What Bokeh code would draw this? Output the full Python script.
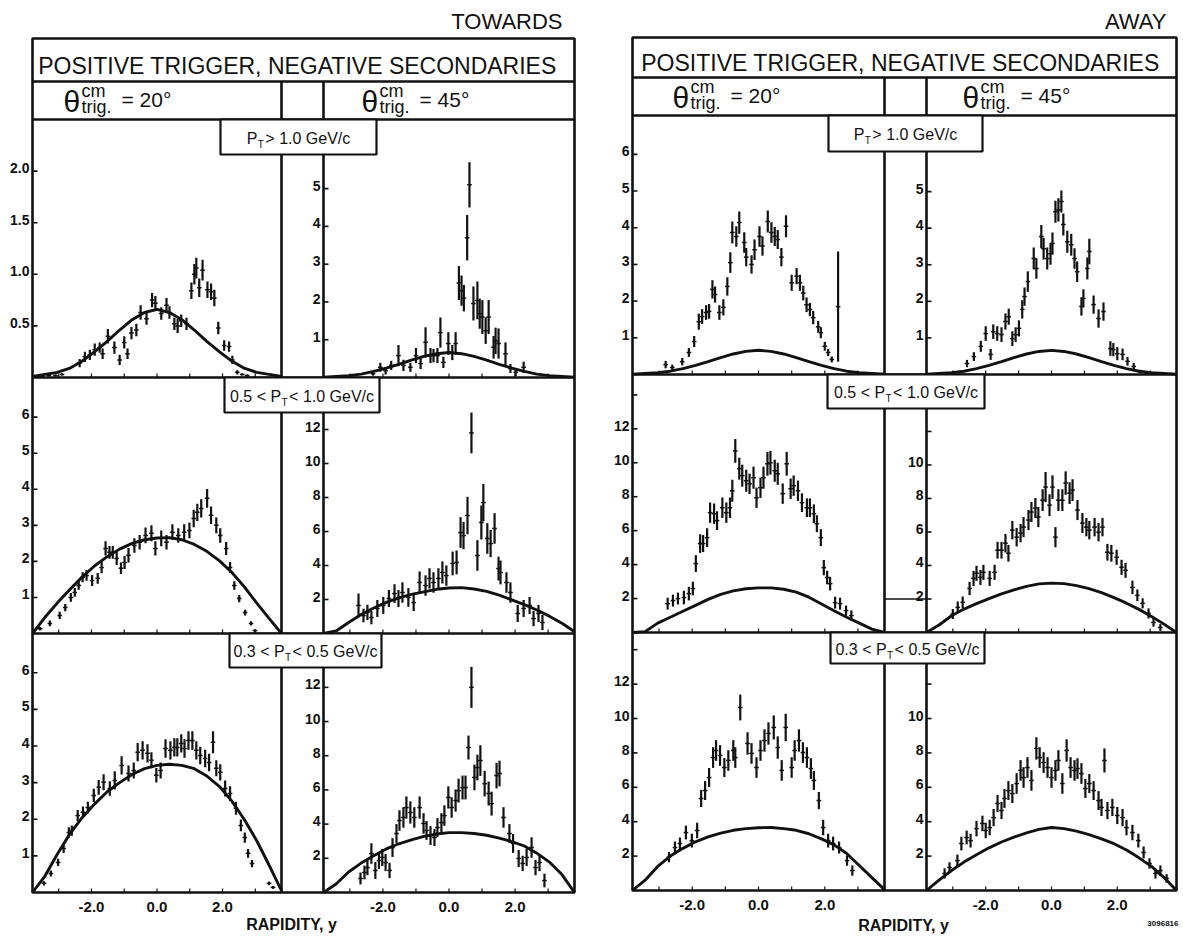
from bokeh.plotting import figure
from bokeh.models import Range1d
from bokeh.core.properties import value
from bokeh.embed import file_html
from bokeh.resources import INLINE

W, H = 1183, 944
FONT = "Liberation Sans"
INK = "#111111"

# ---------------------------------------------------------------- data
XMIN, XMAX = -3.8, 3.8

# rapidity points of the model curves
curve_rap = [-3.8, -3.42, -3.04, -2.66, -2.28, -1.9, -1.52, -1.14, -0.76, -0.38, 0.0,
             0.38, 0.76, 1.14, 1.52, 1.9, 2.28, 2.66, 3.04, 3.42, 3.8]

# model curves
model_pt1 = [0.01, 0.03, 0.05, 0.09, 0.16, 0.25, 0.35, 0.46, 0.56, 0.63, 0.66,
             0.63, 0.56, 0.46, 0.35, 0.25, 0.16, 0.09, 0.05, 0.03, 0.01]
model_t2a = [0.0, 0.45, 0.85, 1.22, 1.57, 1.88, 2.13, 2.34, 2.5, 2.6, 2.65,
             2.66, 2.6, 2.47, 2.28, 2.02, 1.7, 1.3, 0.85, 0.42, 0.0]
model_t2b = [0.0, 0.15, 0.65, 1.12, 1.5, 1.83, 2.1, 2.3, 2.45, 2.6, 2.68,
             2.7, 2.62, 2.48, 2.26, 1.98, 1.7, 1.38, 1.02, 0.6, 0.1]
model_a2c = [0.0, 0.05, 0.55, 0.9, 1.25, 1.6, 1.95, 2.25, 2.45, 2.58, 2.63,
             2.63, 2.55, 2.38, 2.08, 1.68, 1.28, 0.9, 0.55, 0.2, 0.0]
model_a2d = [0.0, 0.45, 1.0, 1.4, 1.72, 2.02, 2.3, 2.55, 2.75, 2.9, 2.95,
             2.92, 2.8, 2.62, 2.38, 2.08, 1.75, 1.38, 0.95, 0.5, 0.0]
model_t3a = [0.0, 0.45, 1.05, 1.6, 2.05, 2.42, 2.75, 3.0, 3.22, 3.38, 3.47,
             3.5, 3.47, 3.38, 3.18, 2.9, 2.5, 2.0, 1.42, 0.75, 0.05]
model_t3b = [0.0, 0.5, 1.2, 1.72, 2.15, 2.55, 2.85, 3.08, 3.28, 3.42, 3.5,
             3.5, 3.45, 3.35, 3.18, 2.98, 2.72, 2.3, 1.78, 1.05, 0.0]
model_a3c = [0.0, 0.6, 1.4, 2.0, 2.45, 2.83, 3.12, 3.34, 3.5, 3.6, 3.65,
             3.66, 3.6, 3.5, 3.3, 3.0, 2.65, 2.15, 1.45, 0.75, 0.05]
model_a3d = [0.0, 0.6, 1.16, 1.65, 2.08, 2.48, 2.82, 3.1, 3.35, 3.55, 3.66,
             3.6, 3.45, 3.25, 3.0, 2.72, 2.35, 1.9, 1.4, 0.75, 0.0]

# TOWARDS, theta = 20 deg, pT > 1.0
t1a_rap = [-3.5, -3.3, -3.1, -2.9, -2.36, -2.2, -2.05, -1.9, -1.75, -1.66, -1.5, -1.3, -1.14, -1.0, -0.9,
           -0.78, -0.63, -0.5, -0.32, -0.15, -0.05, 0.13, 0.29, 0.38, 0.53, 0.63, 0.74, 0.9, 1.05, 1.14,
           1.2, 1.29, 1.39, 1.54, 1.65, 1.75, 1.87, 2.05, 2.2, 2.3, 2.45, 2.6, 2.75]
t1a_val = [0.01, 0.02, 0.02, 0.03, 0.14, 0.2, 0.22, 0.27, 0.29, 0.23, 0.4, 0.29, 0.17, 0.34, 0.23,
           0.43, 0.46, 0.63, 0.57, 0.75, 0.72, 0.62, 0.7, 0.63, 0.52, 0.5, 0.55, 0.52, 0.84, 1.0,
           1.06, 0.87, 1.04, 0.85, 0.83, 0.77, 0.48, 0.31, 0.3, 0.17, 0.05, 0.03, 0.02]
t1a_err = [0.01, 0.01, 0.01, 0.01, 0.04, 0.05, 0.05, 0.06, 0.05, 0.05, 0.07, 0.06, 0.05, 0.06, 0.05,
           0.06, 0.06, 0.07, 0.06, 0.07, 0.07, 0.06, 0.07, 0.06, 0.06, 0.07, 0.06, 0.06, 0.08, 0.1,
           0.1, 0.09, 0.1, 0.08, 0.08, 0.08, 0.06, 0.05, 0.05, 0.04, 0.02, 0.01, 0.01]

# TOWARDS, theta = 45 deg, pT > 1.0
t1b_rap = [-2.3, -2.08, -1.92, -1.75, -1.53, -1.38, -1.17, -1.0, -0.86, -0.71, -0.56, -0.47, -0.35, -0.26,
           -0.17, -0.02, 0.1, 0.2, 0.3, 0.38, 0.45, 0.55, 0.62, 0.74, 0.86, 0.93, 1.01, 1.11, 1.2, 1.35,
           1.41, 1.5, 1.71, 1.86, 2.02, 2.26]
t1b_val = [0.1, 0.27, 0.18, 0.32, 0.58, 0.32, 0.27, 0.58, 0.37, 0.93, 0.58, 0.58, 0.58, 1.19,
           0.4, 0.9, 0.66, 0.9, 2.5, 2.3, 2.1, 3.7, 5.1, 1.96, 2.04, 1.69, 1.6, 1.24, 1.6, 0.8,
           0.97, 0.9, 0.63, 0.24, 0.14, 0.27]
t1b_err = [0.05, 0.12, 0.1, 0.12, 0.28, 0.15, 0.12, 0.2, 0.15, 0.4, 0.2, 0.18, 0.2, 0.4,
           0.15, 0.3, 0.2, 0.3, 0.45, 0.4, 0.35, 0.6, 0.6, 0.45, 0.5, 0.4, 0.45, 0.35, 0.45, 0.3,
           0.35, 0.4, 0.3, 0.12, 0.1, 0.15]

# AWAY, theta = 20 deg, pT > 1.0
a1c_rap = [-2.8, -2.6, -2.3, -2.1, -1.94, -1.8, -1.7, -1.58, -1.49, -1.39, -1.31, -1.18, -1.06, -0.94,
           -0.85, -0.79, -0.67, -0.58, -0.43, -0.37, -0.21, -0.12, 0.03, 0.12, 0.28, 0.39, 0.49, 0.58,
           0.69, 0.83, 1.0, 1.15, 1.25, 1.35, 1.45, 1.55, 1.65, 1.8, 1.88, 2.0, 2.1, 2.21, 2.4]
a1c_val = [0.27, 0.19, 0.35, 0.6, 0.9, 1.44, 1.58, 1.69, 1.72, 2.32, 2.18, 1.69, 1.83, 2.4,
           3.05, 3.87, 3.76, 4.14, 3.6, 3.2, 3.0, 3.4, 3.76, 3.5, 4.17, 3.87, 3.76, 3.68,
           3.2, 4.04, 2.5, 2.68, 2.5, 2.22, 1.9, 1.77, 1.55, 1.3, 1.14, 0.77, 0.6, 0.41, 1.85]
a1c_err = [0.1, 0.08, 0.1, 0.12, 0.15, 0.22, 0.2, 0.2, 0.2, 0.25, 0.22, 0.2, 0.22, 0.25,
           0.28, 0.3, 0.28, 0.3, 0.28, 0.25, 0.25, 0.28, 0.28, 0.26, 0.3, 0.28, 0.26, 0.26,
           0.25, 0.3, 0.22, 0.22, 0.22, 0.2, 0.2, 0.18, 0.18, 0.16, 0.15, 0.12, 0.1, 0.08, 1.5]

# AWAY, theta = 45 deg, pT > 1.0
a1d_rap = [-2.57, -2.36, -2.15, -2.0, -1.85, -1.77, -1.65, -1.52, -1.4, -1.3, -1.19, -1.09, -0.99, -0.89,
           -0.82, -0.72, -0.54, -0.46, -0.31, -0.24, -0.13, -0.03, 0.03, 0.12, 0.21, 0.3, 0.36, 0.48,
           0.6, 0.7, 0.78, 0.91, 0.97, 1.09, 1.15, 1.28, 1.43, 1.58, 1.79, 1.88, 2.0, 2.16, 2.31,
           2.5, 2.7, 2.9]
a1d_val = [0.3, 0.49, 0.77, 1.12, 0.55, 1.17, 1.12, 1.09, 1.45, 1.58, 0.98, 1.09, 1.26, 1.78,
           2.13, 2.54, 3.17, 2.9, 3.77, 3.44, 3.17, 3.3, 3.58, 4.45, 4.5, 4.73, 4.1, 3.63,
           3.55, 3.17, 2.81, 1.86, 2.08, 2.9, 3.36, 1.91, 1.53, 1.72, 0.71, 0.68, 0.57, 0.55, 0.36,
           0.22, 0.08, 0.03]
a1d_err = [0.1, 0.12, 0.15, 0.2, 0.15, 0.2, 0.2, 0.2, 0.22, 0.22, 0.2, 0.2, 0.22, 0.25,
           0.25, 0.28, 0.3, 0.28, 0.32, 0.3, 0.3, 0.3, 0.3, 0.3, 0.32, 0.3, 0.3, 0.3,
           0.3, 0.28, 0.28, 0.25, 0.25, 0.3, 0.35, 0.25, 0.25, 0.25, 0.2, 0.18, 0.18, 0.16, 0.12,
           0.1, 0.05, 0.03]

# TOWARDS, theta = 20 deg, 0.5 < pT < 1.0
t2a_rap = [-3.57, -3.27, -2.97, -2.8, -2.63, -2.51, -2.39, -2.27, -2.15, -1.98, -1.81, -1.69, -1.57, -1.45,
           -1.35, -1.23, -1.1, -0.99, -0.87, -0.69, -0.53, -0.35, -0.17, -0.05, 0.13, 0.29, 0.47, 0.65,
           0.83, 0.99, 1.12, 1.23, 1.35, 1.53, 1.65, 1.81, 1.93, 2.11, 2.23, 2.36, 2.51, 2.69, 2.87, 2.99]
t2a_val = [0.13, 0.28, 0.5, 0.72, 1.0, 1.14, 1.33, 1.56, 1.61, 1.47, 1.53, 1.83, 2.36, 2.25,
           2.25, 2.08, 1.81, 1.97, 2.17, 2.44, 2.53, 2.72, 2.78, 2.36, 2.64, 2.53, 2.81, 2.72,
           2.81, 2.86, 3.19, 3.36, 3.47, 3.75, 3.28, 3.0, 2.72, 2.36, 1.83, 1.33, 0.97, 0.58, 0.28, 0.08]
t2a_err = [0.05, 0.08, 0.1, 0.1, 0.12, 0.12, 0.12, 0.14, 0.15, 0.15, 0.15, 0.16, 0.2, 0.18,
           0.18, 0.18, 0.16, 0.18, 0.2, 0.2, 0.2, 0.22, 0.22, 0.2, 0.22, 0.2, 0.22, 0.2,
           0.22, 0.22, 0.24, 0.24, 0.25, 0.26, 0.24, 0.22, 0.2, 0.18, 0.15, 0.12, 0.1, 0.08, 0.06, 0.04]

# TOWARDS, theta = 45 deg, 0.5 < pT < 1.0
t2b_rap = [-2.74, -2.59, -2.47, -2.35, -2.17, -1.99, -1.82, -1.65, -1.53, -1.41, -1.23, -1.07, -0.89, -0.71,
           -0.59, -0.47, -0.32, -0.2, -0.08, 0.11, 0.23, 0.35, 0.44, 0.56, 0.68, 0.86, 0.98, 1.04,
           1.16, 1.26, 1.38, 1.5, 1.56, 1.74, 1.86, 2.08, 2.26, 2.44, 2.56, 2.71, 2.83]
t2b_val = [1.65, 1.06, 1.24, 0.94, 1.47, 1.65, 2.06, 2.35, 2.06, 2.41, 2.12, 1.82, 3.0, 2.82,
           3.24, 3.0, 3.24, 3.59, 3.41, 4.12, 4.18, 5.94, 5.76, 6.94, 11.8, 4.59, 6.53, 7.7,
           5.59, 5.29, 6.18, 3.82, 3.59, 3.0, 2.41, 1.18, 1.47, 1.65, 0.88, 1.18, 0.65]
t2b_err = [0.7, 0.4, 0.45, 0.4, 0.5, 0.5, 0.5, 0.55, 0.5, 0.6, 0.55, 0.5, 0.65, 0.6,
           0.6, 0.6, 0.6, 0.65, 0.6, 0.7, 0.7, 0.9, 0.8, 1.1, 1.2, 0.9, 1.0, 1.1,
           0.9, 0.8, 0.9, 0.7, 0.7, 0.6, 0.6, 0.5, 0.5, 0.5, 0.45, 0.5, 0.45]

# AWAY, theta = 20 deg, 0.5 < pT < 1.0
a2c_rap = [-2.74, -2.58, -2.43, -2.25, -2.1, -1.98, -1.89, -1.76, -1.67, -1.55, -1.46, -1.34, -1.25, -1.09,
           -0.97, -0.86, -0.79, -0.7, -0.58, -0.49, -0.37, -0.27, -0.15, -0.06, 0.06, 0.15, 0.27, 0.36,
           0.49, 0.58, 0.73, 0.85, 0.97, 1.06, 1.19, 1.31, 1.46, 1.55, 1.67, 1.76, 1.88, 1.97, 2.07,
           2.16, 2.31, 2.46, 2.64, 2.8]
a2c_val = [1.7, 1.88, 2.0, 2.06, 2.29, 2.59, 4.06, 5.24, 5.24, 5.59, 7.06, 7.0, 6.59, 7.35,
           7.06, 7.35, 8.35, 10.7, 9.65, 9.24, 8.94, 8.76, 9.12, 7.94, 8.53, 9.12, 9.94, 10.0,
           9.53, 9.35, 8.18, 9.94, 8.47, 8.65, 8.35, 7.65, 7.35, 7.35, 7.0, 6.41, 5.59, 3.82, 3.24,
           2.88, 1.76, 1.7, 1.29, 1.0]
a2c_err = [0.35, 0.35, 0.35, 0.4, 0.4, 0.4, 0.5, 0.55, 0.5, 0.55, 0.6, 0.6, 0.55, 0.6,
           0.6, 0.6, 0.65, 0.7, 0.65, 0.65, 0.65, 0.6, 0.65, 0.6, 0.6, 0.65, 0.7, 0.7,
           0.65, 0.65, 0.6, 0.7, 0.6, 0.6, 0.6, 0.55, 0.55, 0.55, 0.55, 0.5, 0.5, 0.45, 0.4,
           0.4, 0.35, 0.35, 0.3, 0.3]

# AWAY, theta = 45 deg, 0.5 < pT < 1.0
a2d_rap = [-3.0, -2.85, -2.7, -2.49, -2.37, -2.28, -2.16, -2.07, -1.88, -1.73, -1.64, -1.52, -1.4, -1.31,
           -1.19, -1.06, -0.94, -0.85, -0.7, -0.61, -0.49, -0.4, -0.27, -0.18, -0.06, 0.03, 0.12, 0.21,
           0.33, 0.43, 0.55, 0.64, 0.79, 0.94, 1.06, 1.15, 1.31, 1.43, 1.55, 1.7, 1.82, 1.98, 2.13,
           2.25, 2.46, 2.61, 2.77, 2.95, 3.1, 3.31]
a2d_val = [1.1, 1.5, 1.8, 2.63, 3.23, 3.53, 3.29, 3.59, 3.23, 3.59, 4.91, 4.91, 5.33, 4.73,
           6.11, 5.69, 5.93, 6.29, 6.71, 7.19, 7.43, 6.89, 7.9, 8.68, 7.6, 8.68, 5.69, 7.9,
           7.9, 8.92, 8.32, 8.5, 7.31, 6.53, 6.29, 6.11, 6.29, 5.99, 6.29, 4.79, 4.73, 4.49, 3.89,
           3.71, 2.69, 2.22, 1.74, 1.14, 0.6, 0.3]
a2d_err = [0.3, 0.35, 0.35, 0.4, 0.45, 0.45, 0.45, 0.45, 0.45, 0.45, 0.5, 0.5, 0.55, 0.5,
           0.55, 0.55, 0.55, 0.6, 0.6, 0.6, 0.6, 0.6, 0.65, 0.9, 0.65, 0.7, 0.6, 0.65,
           0.65, 0.7, 0.65, 0.65, 0.6, 0.6, 0.55, 0.55, 0.55, 0.55, 0.55, 0.5, 0.5, 0.45, 0.45,
           0.45, 0.4, 0.35, 0.3, 0.3, 0.25, 0.2]

# TOWARDS, theta = 20 deg, 0.3 < pT < 0.5
t3a_rap = [-3.45, -3.24, -3.02, -2.85, -2.69, -2.6, -2.42, -2.26, -2.11, -1.93, -1.78, -1.63, -1.44, -1.29,
           -1.08, -0.87, -0.71, -0.59, -0.44, -0.29, -0.17, -0.02, 0.11, 0.26, 0.41, 0.53, 0.62, 0.74,
           0.84, 0.96, 1.08, 1.2, 1.32, 1.47, 1.59, 1.71, 1.81, 1.93, 2.08, 2.23, 2.41, 2.56, 2.68,
           2.78, 2.9, 3.42, 3.54]
t3a_val = [0.25, 0.52, 0.82, 1.2, 1.64, 1.69, 2.1, 2.19, 2.32, 2.65, 2.87, 3.01, 2.84, 3.06,
           3.47, 3.25, 3.33, 3.83, 3.88, 3.8, 3.61, 3.2, 3.33, 3.93, 3.88, 3.96, 3.96, 4.07,
           3.93, 4.15, 4.15, 3.88, 3.74, 3.66, 3.55, 4.1, 3.39, 3.28, 2.84, 2.7, 2.3, 1.83, 1.5,
           1.07, 0.79, 0.25, 0.14]
t3a_err = [0.06, 0.08, 0.1, 0.12, 0.14, 0.14, 0.15, 0.16, 0.16, 0.18, 0.2, 0.22, 0.2, 0.25,
           0.25, 0.22, 0.22, 0.25, 0.25, 0.25, 0.22, 0.2, 0.22, 0.25, 0.25, 0.25, 0.25, 0.25,
           0.25, 0.25, 0.25, 0.25, 0.24, 0.24, 0.24, 0.3, 0.22, 0.22, 0.22, 0.2, 0.18, 0.16, 0.14,
           0.12, 0.1, 0.05, 0.04]

# TOWARDS, theta = 45 deg, 0.3 < pT < 0.5
t3b_rap = [-2.68, -2.56, -2.47, -2.35, -2.23, -2.12, -2.02, -1.92, -1.8, -1.71, -1.59, -1.5, -1.38, -1.29,
           -1.17, -1.05, -0.89, -0.77, -0.68, -0.56, -0.44, -0.35, -0.23, -0.14, -0.02, 0.08, 0.2, 0.29,
           0.41, 0.5, 0.59, 0.68, 0.77, 0.86, 0.95, 1.08, 1.2, 1.29, 1.44, 1.53, 1.65, 1.83, 1.94,
           2.11, 2.23, 2.35, 2.5, 2.62, 2.74, 2.89]
t3b_val = [0.82, 1.17, 1.46, 2.28, 1.29, 1.87, 2.05, 1.75, 1.29, 2.63, 3.45, 4.21, 4.39, 4.97,
           4.68, 4.39, 4.97, 4.04, 3.63, 3.33, 3.22, 3.8, 4.09, 4.5, 5.56, 4.97, 5.38, 5.96,
           6.14, 6.14, 8.48, 12.0, 6.73, 7.31, 7.72, 6.37, 5.79, 5.2, 6.84, 6.96, 4.39, 3.45, 2.87,
           1.99, 1.7, 2.05, 2.63, 1.46, 1.75, 0.7]
t3b_err = [0.35, 0.4, 0.45, 0.6, 0.5, 0.5, 0.5, 0.5, 0.45, 0.55, 0.55, 0.6, 0.6, 0.65,
           0.65, 0.6, 0.65, 0.6, 0.55, 0.55, 0.5, 0.55, 0.55, 0.6, 0.65, 0.6, 0.65, 0.7,
           0.7, 0.7, 0.7, 1.2, 0.75, 0.75, 0.9, 0.75, 0.7, 0.7, 0.75, 0.75, 0.6, 0.55, 0.55,
           0.5, 0.45, 0.5, 0.6, 0.45, 0.5, 0.4]

# AWAY, theta = 20 deg, 0.3 < pT < 0.5
a3c_rap = [-2.7, -2.52, -2.37, -2.19, -2.01, -1.85, -1.73, -1.61, -1.49, -1.37, -1.28, -1.16, -1.03, -0.91,
           -0.76, -0.7, -0.55, -0.33, -0.21, -0.06, 0.06, 0.18, 0.3, 0.46, 0.58, 0.7, 0.82, 1.0,
           1.09, 1.22, 1.34, 1.46, 1.58, 1.67, 1.82, 1.95, 2.1, 2.25, 2.43, 2.67, 2.83]
a3c_val = [1.94, 2.5, 2.73, 3.37, 2.9, 3.49, 5.35, 5.81, 6.57, 7.73, 8.14, 7.85, 7.15, 7.56,
           8.14, 7.73, 10.64, 8.55, 7.97, 7.15, 8.14, 8.72, 9.13, 9.48, 8.31, 6.98, 9.48, 7.15,
           8.14, 8.72, 8.02, 7.73, 7.09, 6.4, 5.23, 3.66, 2.9, 2.73, 2.5, 1.74, 1.16]
a3c_err = [0.3, 0.35, 0.35, 0.4, 0.4, 0.45, 0.5, 0.55, 0.55, 0.6, 0.6, 0.6, 0.55, 0.6,
           0.6, 0.6, 0.75, 0.65, 0.6, 0.6, 0.6, 0.65, 0.65, 0.7, 0.65, 0.6, 0.8, 0.6,
           0.6, 0.65, 0.6, 0.6, 0.6, 0.55, 0.5, 0.45, 0.4, 0.4, 0.35, 0.3, 0.3]

# AWAY, theta = 45 deg, 0.3 < pT < 0.5
a3d_rap = [-3.25, -3.1, -2.86, -2.74, -2.58, -2.46, -2.28, -2.1, -2.0, -1.88, -1.76, -1.64, -1.52, -1.43,
           -1.31, -1.19, -1.06, -0.94, -0.85, -0.73, -0.61, -0.46, -0.36, -0.24, -0.12, 0.0, 0.12, 0.21,
           0.33, 0.46, 0.58, 0.7, 0.79, 0.91, 1.03, 1.15, 1.28, 1.43, 1.52, 1.61, 1.7, 1.85, 2.0,
           2.16, 2.28, 2.46, 2.64, 2.8, 2.98, 3.16, 3.31, 3.5]
a3d_val = [0.99, 1.34, 1.74, 2.73, 3.08, 2.9, 3.6, 3.9, 3.49, 3.66, 4.24, 5.06, 4.65, 5.35,
           5.81, 5.64, 6.22, 6.98, 6.57, 7.15, 6.4, 8.26, 7.73, 7.44, 7.15, 6.57, 6.98, 7.56,
           6.22, 8.14, 7.15, 6.98, 7.09, 6.8, 5.93, 6.22, 5.81, 5.23, 4.83, 7.56, 4.65, 4.83, 4.36,
           4.24, 3.66, 3.37, 2.9, 2.21, 1.57, 0.99, 1.16, 0.7]
a3d_err = [0.3, 0.3, 0.35, 0.4, 0.4, 0.4, 0.45, 0.45, 0.45, 0.45, 0.5, 0.5, 0.5, 0.55,
           0.55, 0.55, 0.6, 0.6, 0.6, 0.6, 0.6, 0.65, 0.6, 0.6, 0.6, 0.6, 0.6, 0.6,
           0.6, 0.65, 0.6, 0.6, 0.6, 0.6, 0.55, 0.55, 0.55, 0.55, 0.5, 0.7, 0.5, 0.5, 0.5,
           0.5, 0.45, 0.45, 0.4, 0.35, 0.3, 0.3, 0.3, 0.25]

# tick values / labels
ticks_half = [0.5, 1.0, 1.5, 2.0]
labels_half = ["0.5", "1.0", "1.5", "2.0"]
ticks_unit5 = [1, 2, 3, 4, 5]
ticks_unit6 = [1, 2, 3, 4, 5, 6]
ticks_even12 = [2, 4, 6, 8, 10, 12]
ticks_even10 = [2, 4, 6, 8, 10]
x_ticks = [-2.0, 0.0, 2.0]
x_labels = ["-2.0", "0.0", "2.0"]
x_minor = [-3, -2, -1, 0, 1, 2, 3]

pt_bins = [("P", "> 1.0 GeV/c"), ("0.5 < P", "< 1.0 GeV/c"), ("0.3 < P", "< 0.5 GeV/c")]

# ---------------------------------------------------------------- page layout
# each half: frame box, header dividers, strip between the two angle columns
halves = [
    dict(name="TOWARDS", left=32, right=574, top=38, title_y=81, theta_y=119,
         rows=[119, 377, 633, 892], strip=(281, 323), side_x=562, side_y=21,
         title_x=297, title_mid=65,
         theta=[(63, "= 20°"), (361, "= 45°")], theta_dy=0,
         pt_boxes=[(220, 376, 119, 154), (224, 379, 377, 412), (229, 381, 633, 667)],
         rap_x=291, rap_y=924),
    dict(name="AWAY", left=632, right=1176, top=37, title_y=77, theta_y=115,
         rows=[115, 374, 632, 890], strip=(884, 926), side_x=1166, side_y=21,
         title_x=900, title_mid=62,
         theta=[(672, "= 20°"), (962, "= 45°")], theta_dy=-4,
         pt_boxes=[(828, 982, 115, 151), (827, 984, 374, 408), (830, 984, 632, 663)],
         rap_x=903, rap_y=925),
]

# panel: key, data arrays, model curve, half, row, column, y top value, ticks, labels, unlabeled ticks
panels = [
    ("t1a", t1a_rap, t1a_val, t1a_err, model_pt1, 0, 0, "a", 2.5, ticks_half, labels_half, []),
    ("t1b", t1b_rap, t1b_val, t1b_err, model_pt1, 0, 0, "b", 6.83, ticks_unit5, None, []),
    ("t2a", t2a_rap, t2a_val, t2a_err, model_t2a, 0, 1, "a", 7.1, ticks_unit6, None, []),
    ("t2b", t2b_rap, t2b_val, t2b_err, model_t2b, 0, 1, "b", 15.06, ticks_even12, None, []),
    ("t3a", t3a_rap, t3a_val, t3a_err, model_t3a, 0, 2, "a", 7.07, ticks_unit6, None, []),
    ("t3b", t3b_rap, t3b_val, t3b_err, model_t3b, 0, 2, "b", 15.15, ticks_even12, None, []),
    ("a1c", a1c_rap, a1c_val, a1c_err, model_pt1, 1, 0, "a", 7.06, ticks_unit6, None, []),
    ("a1d", a1d_rap, a1d_val, a1d_err, model_pt1, 1, 0, "b", 7.08, ticks_unit5, None, []),
    ("a2c", a2c_rap, a2c_val, a2c_err, model_a2c, 1, 1, "a", 15.2, ticks_even12, None, [14]),
    ("a2d", a2d_rap, a2d_val, a2d_err, model_a2d, 1, 1, "b", 15.4, ticks_even10, None, [12]),
    ("a3c", a3c_rap, a3c_val, a3c_err, model_a3c, 1, 2, "a", 15.0, ticks_even12, None, [14]),
    ("a3d", a3d_rap, a3d_val, a3d_err, model_a3d, 1, 2, "b", 15.0, ticks_even10, None, [12]),
]

p = figure(width=W, height=H, x_range=Range1d(0, W), y_range=Range1d(H, 0),
           x_axis_type=None, y_axis_type=None, toolbar_location=None,
           min_border=0, output_backend="svg")
p.outline_line_color = None
p.background_fill_color = "white"
p.border_fill_color = "white"


def txt(x, y, s, size, align="left", style="normal", font=FONT, **kw):
    # y is the vertical middle of the text
    p.text(x=[x], y=[y], text=[s], text_font=value(font), text_font_size=f"{size}px",
           text_font_style=style, text_align=align, text_baseline="middle",
           text_color=INK, **kw)


# per-panel ranges mapping rapidity / yield onto the panel's pixel box
extra_x, extra_y, geo = {}, {}, {}
for key, rap, val, err, curve, hi, row, col, ytop, ticks, labels, bare in panels:
    h = halves[hi]
    if col == "a":
        x0, x1 = h["left"], h["strip"][0]
    else:
        x0, x1 = h["strip"][1], h["right"]
    top_px, base_px = h["rows"][row], h["rows"][row + 1]
    sx = (XMAX - XMIN) / (x1 - x0)
    xs = XMIN - x0 * sx
    sy = ytop / (base_px - top_px)
    extra_x[key + "_x"] = Range1d(xs, xs + W * sx)
    extra_y[key + "_y"] = Range1d(-(H - base_px) * sy, base_px * sy)
    geo[key] = (sx, sy)
p.extra_x_ranges = extra_x
p.extra_y_ranges = extra_y

# frames, dividers and strips
for h in halves:
    L, R = h["left"], h["right"]
    bottom = h["rows"][-1]
    p.quad(left=[L], right=[R], top=[h["top"]], bottom=[bottom], fill_color=None,
           line_color=INK, line_width=2.6)
    ys = [h["title_y"], h["theta_y"]] + h["rows"][1:-1]
    p.segment(x0=[L] * len(ys), x1=[R] * len(ys), y0=ys, y1=ys, line_color=INK, line_width=2.4)
    sxs = list(h["strip"])
    p.segment(x0=sxs, x1=sxs, y0=[h["title_y"]] * 2, y1=[bottom] * 2, line_color=INK, line_width=2.6)

# data, model curves, ticks
for key, rap, val, err, curve, hi, row, col, ytop, ticks, labels, bare in panels:
    names = dict(x_range_name=key + "_x", y_range_name=key + "_y")
    sx, sy = geo[key]
    p.line(curve_rap, curve, line_color=INK, line_width=2.9, **names)
    lo = [v - e for v, e in zip(val, err)]
    up = [v + e for v, e in zip(val, err)]
    p.segment(x0=rap, x1=rap, y0=lo, y1=up, line_color=INK, line_width=2.2, **names)
    hw = 0.07
    p.segment(x0=[r - hw for r in rap], x1=[r + hw for r in rap], y0=val, y1=val,
              line_color=INK, line_width=1.5, **names)
    all_ticks = list(ticks) + list(bare)
    n = len(all_ticks)
    p.segment(x0=[XMIN] * n, x1=[XMIN + 5 * sx] * n, y0=all_ticks, y1=all_ticks,
              line_color=INK, line_width=1.6, **names)
    lab = labels if labels is not None else [str(t) for t in ticks]
    p.text(x=[XMIN] * len(ticks), y=ticks, text=lab, x_offset=-3, y_offset=-3,
           text_align="right", text_baseline="middle", text_font=value(FONT),
           text_font_size="14px", text_font_style="bold", text_color=INK, **names)
    p.segment(x0=x_minor, x1=x_minor, y0=[0] * len(x_minor), y1=[4 * sy] * len(x_minor),
              line_color=INK, line_width=1.2, **names)
    if row == 2:
        p.text(x=x_ticks, y=[0] * 3, text=x_labels, y_offset=14, text_align="center",
               text_baseline="middle", text_font=value(FONT), text_font_size="15px",
               text_font_style="bold", text_color=INK, **names)
    if key == "a2d":
        # the "2" tick of this panel runs across the strip
        p.segment(x0=[XMIN - 42 * sx], x1=[XMIN], y0=[2], y1=[2], line_color=INK,
                  line_width=1.6, **names)

# header texts
W_ARIAL = {"0": .556, "1": .556, "3": .556, "5": .556, ".": .278, " ": .278, "<": .584,
           ">": .584, "P": .667, "G": .778, "e": .556, "V": .667, "/": .278, "c": .5}


def width(s, size):
    return sum(W_ARIAL.get(ch, .6) for ch in s) * size


for h in halves:
    txt(h["side_x"], h["side_y"], h["name"], 22, align="right")
    txt(h["title_x"], h["title_mid"], "POSITIVE TRIGGER, NEGATIVE SECONDARIES", 23, align="center")
    dy = h["theta_dy"]
    for tx, rest in h["theta"]:
        txt(tx, 101 + dy, "θ", 30)
        txt(tx + 18, 90 + dy, "cm", 18)
        txt(tx + 18, 106 + dy, "trig.", 18)
        txt(tx + 58, 99 + dy, rest, 21)
    # pT windows
    for (bl, br, bt, bb), (left_s, right_s) in zip(h["pt_boxes"], pt_bins):
        p.quad(left=[bl], right=[br], top=[bt], bottom=[bb], fill_color="white",
               line_color=INK, line_width=2.2)
        fs = 16
        wl, wr = width(left_s, fs), width(right_s, fs)
        gap = 8
        anchor = (bl + br) / 2 - (wl + gap + wr) / 2 + wl
        mid = (bt + bb) / 2 + 1
        txt(anchor, mid, left_s, fs, align="right")
        txt(anchor + 0.5, mid + 6, "T", 10)
        txt(anchor + gap, mid, right_s, fs)
    txt(h["rap_x"], h["rap_y"], "RAPIDITY, y", 16, align="center", style="bold")

txt(1178, 923, "3096816", 8, align="right", style="bold")

open("out.html", "w").write(file_html(p, INLINE))
